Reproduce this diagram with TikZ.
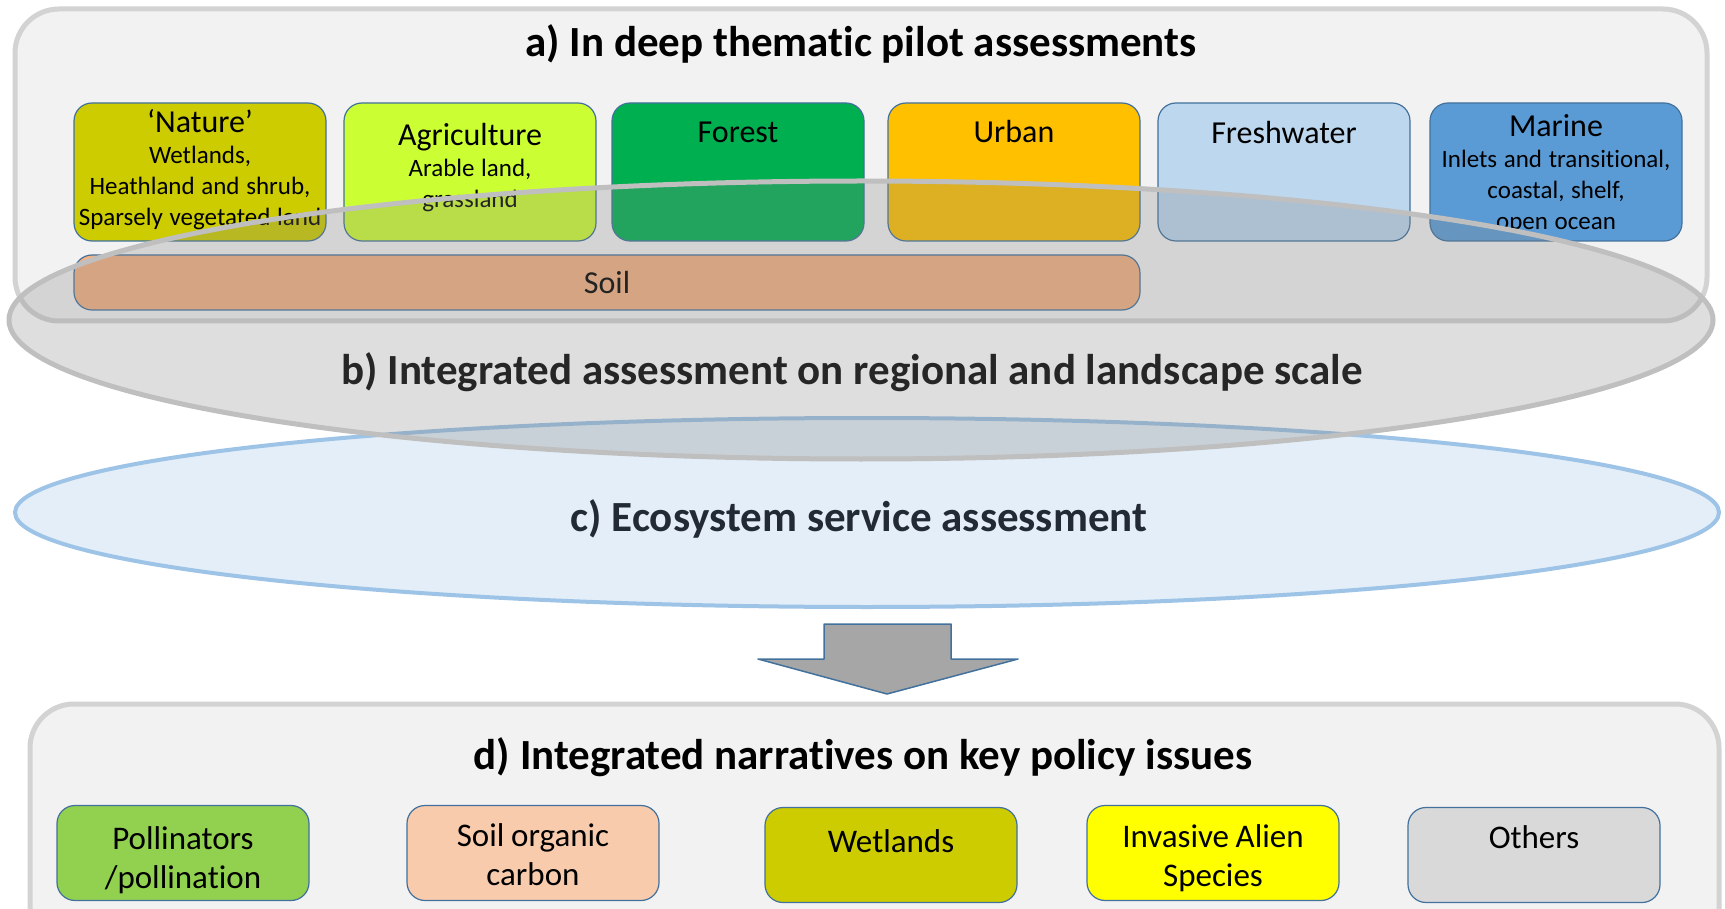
\documentclass[tikz,border=0pt]{standalone}
\usepackage{fontspec}
\setmainfont{Carlito}[Ligatures=NoCommon]
\definecolor{panelfill}{HTML}{F2F2F2}
\definecolor{panelline}{HTML}{D3D3D3}
\definecolor{boxline}{HTML}{41719C}
\definecolor{natcol}{HTML}{CCCC00}
\definecolor{agrcol}{HTML}{CCFF33}
\definecolor{forcol}{HTML}{00B050}
\definecolor{urbcol}{HTML}{FFC000}
\definecolor{frecol}{HTML}{BDD7EE}
\definecolor{marcol}{HTML}{5B9BD5}
\definecolor{soilcol}{HTML}{F4B183}
\definecolor{polcol}{HTML}{92D050}
\definecolor{soccol}{HTML}{F8CBAD}
\definecolor{iascol}{HTML}{FFFF00}
\definecolor{othcol}{HTML}{D9D9D9}
\definecolor{elbfill}{HTML}{858585}
\definecolor{elbline}{HTML}{BFBFBF}
\definecolor{elcfill}{HTML}{E3EEF8}
\definecolor{elcline}{HTML}{9DC3E6}
\definecolor{btext}{HTML}{262626}
\definecolor{ctext}{HTML}{222A35}
\definecolor{arrfill}{HTML}{A6A6A6}
\newcommand\hdf{\fontsize{16}{19}\selectfont}
\newcommand\sbf{\fontsize{12.5}{15.5}\selectfont}
\newcommand\isf{\fontsize{16.5}{19.8}\selectfont}
\begin{document}
\begin{tikzpicture}[x=0.5pt,y=-0.5pt, line join=round,
	panel/.style={draw=panelline, line width=2.5pt, fill=panelfill, rounded corners=22pt},
	tbox/.style={draw=boxline, line width=0.6pt, rounded corners=9pt, inner sep=0pt, minimum width=126pt, minimum height=69pt},
	ibox/.style={tbox, minimum height=47.5pt},
	ttext/.style={anchor=north, text width=124pt, align=center, inner sep=0pt},
	big/.style={font=\fontsize{21.5}{26}\selectfont\bfseries}]
	\useasboundingbox (0,0) rectangle (1725,909);
	\def\ya{172} % row of pilot boxes
	% a) pilot assessments
	\draw[panel] (15,9) rectangle (1707,321);
	\node[big] (ta) at (861,44) {a) In deep thematic pilot assessments};
	\node[tbox, fill=natcol] (nat) at (200,\ya) {};
	\node[tbox, fill=agrcol] (agr) at (470,\ya) {};
	\node[tbox, fill=forcol] (for) at (738,\ya) {};
	\node[tbox, fill=urbcol] (urb) at (1014,\ya) {};
	\node[tbox, fill=frecol] (fre) at (1284,\ya) {};
	\node[tbox, fill=marcol] (mar) at (1556,\ya) {};
	\node[tbox, fill=soilcol, minimum width=533pt, minimum height=27.5pt] (soil) at (607,282.5) {\hdf Soil};
	\node[ttext] (natT) at (200,109) {\hdf `Nature'\par\sbf Wetlands,\\Heathland and shrub,\\Sparsely vegetated land\par};
	\node[ttext] (agrT) at (470,123) {\hdf Agriculture\par\sbf Arable land,\\grassland\par};
	\node[ttext] (forT) at (738,122) {\hdf Forest\par};
	\node[ttext] (urbT) at (1014,120) {\hdf Urban\par};
	\node[ttext] (freT) at (1284,121) {\hdf Freshwater\par};
	\node[ttext] (marT) at (1556,114) {\hdf Marine\par\sbf Inlets and transitional,\\coastal, shelf,\\open ocean\par};
	% c) and b) ellipses
	\draw[draw=elcline, line width=2pt, fill=elcfill] (867,512.5) ellipse [x radius=852, y radius=94.5];
	\draw[draw=elbline, line width=2.5pt, fill=elbfill, fill opacity=0.27] (861,320) ellipse [x radius=852, y radius=139];
	\node[big, text=btext] (tb) at (852,372) {b) Integrated assessment on regional and landscape scale};
	\node[big, text=ctext] (tc) at (859,519) {c) Ecosystem service assessment};
	% block arrow
	\draw[draw=boxline, line width=0.75pt, fill=arrfill] (824,624) -- (951,624) -- (951,659) -- (1018,659) -- (887,694) -- (758,659) -- (824,659) -- cycle;
	% d) narratives
	\draw[panel] (30,704) rectangle (1719,980);
	\node[big] (td) at (863,757) {d) Integrated narratives on key policy issues};
	\node[ibox, fill=polcol] (pol) at (183,853) {};
	\node[ibox, fill=soccol] (soc) at (533,853) {};
	\node[ibox, fill=natcol] (wet) at (891,855) {};
	\node[ibox, fill=iascol] (ias) at (1213,853) {};
	\node[ibox, fill=othcol] (oth) at (1534,855) {};
	\node[ttext] (polT) at (183,826) {\isf Pollinators\\/pollination\par};
	\node[ttext] (socT) at (533,823) {\isf Soil organic\\carbon\par};
	\node[ttext] (wetT) at (891,829) {\isf Wetlands\par};
	\node[ttext] (iasT) at (1213,824) {\isf Invasive Alien\\Species\par};
	\node[ttext] (othT) at (1534,825) {\isf Others\par};
\end{tikzpicture}
\end{document}
